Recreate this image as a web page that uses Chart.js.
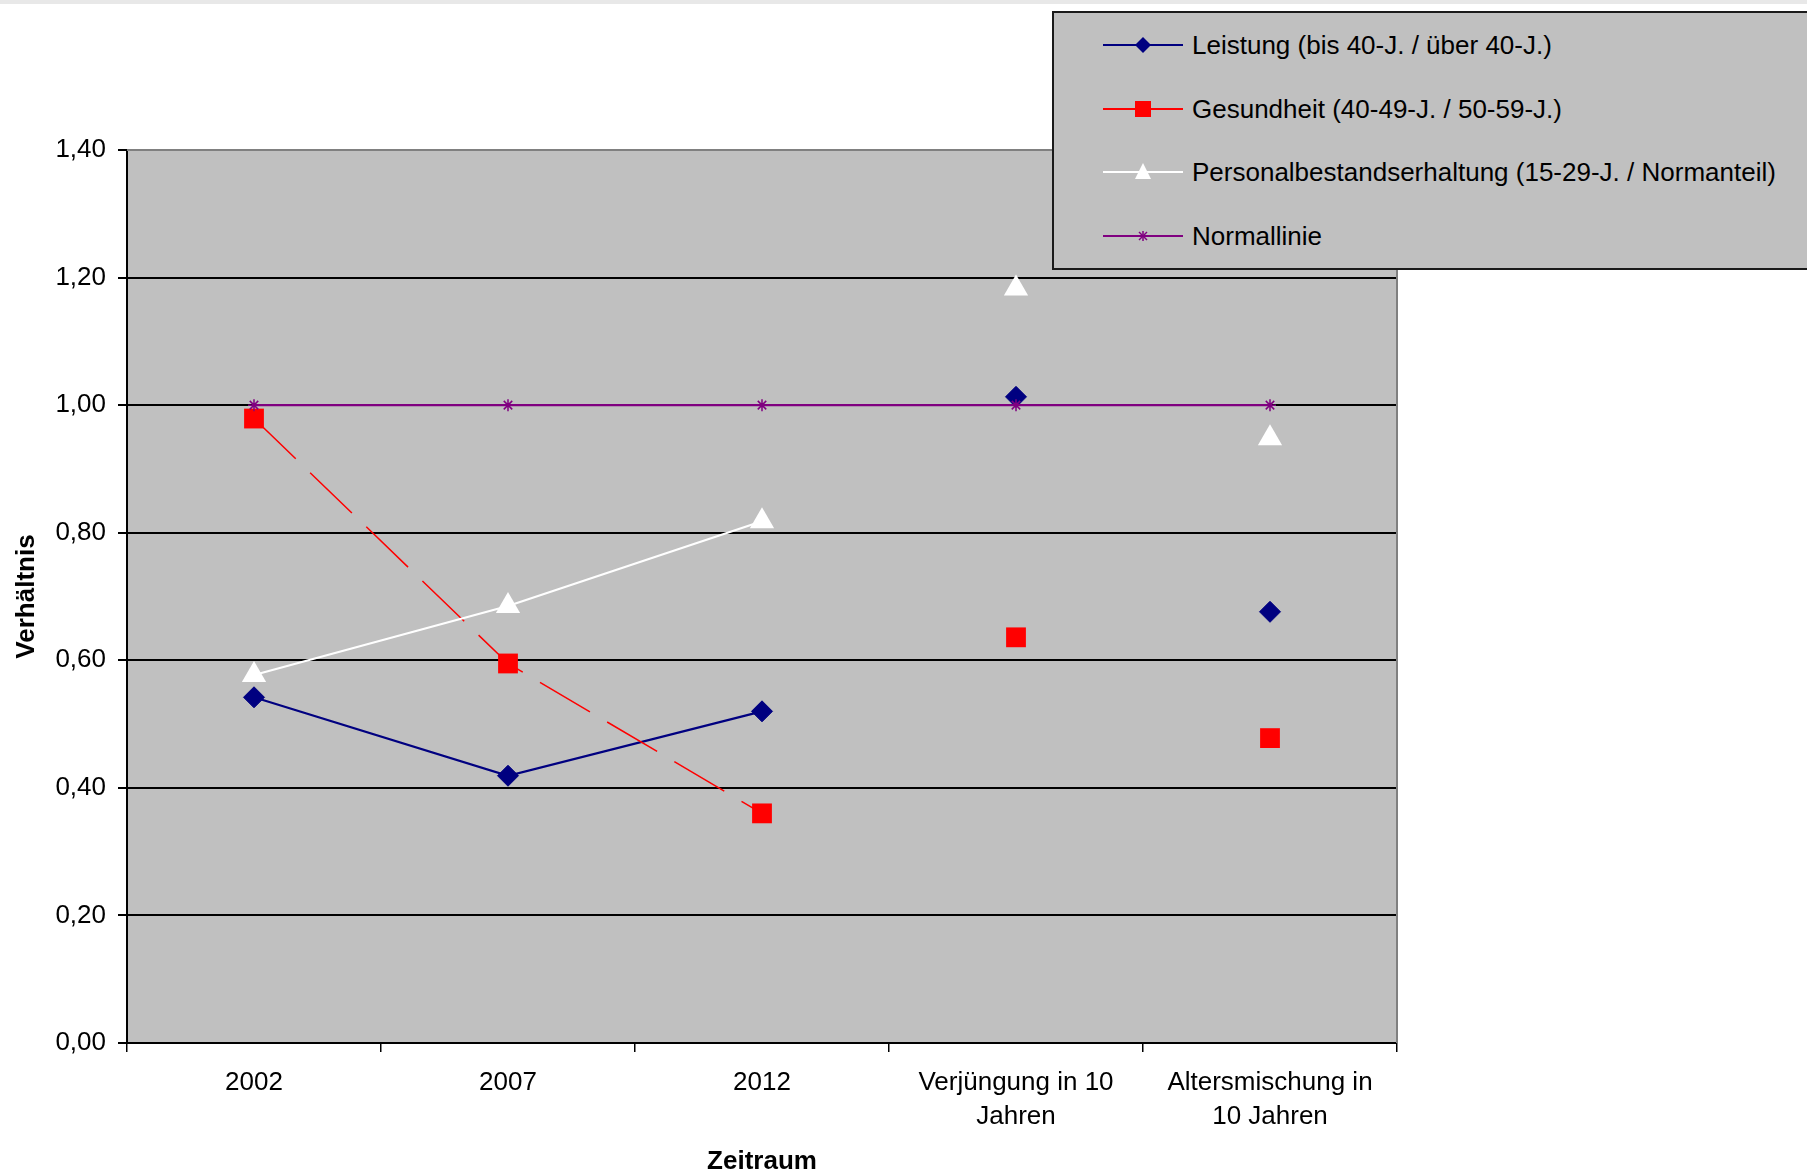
<!DOCTYPE html>
<html>
<head>
<meta charset="utf-8">
<script src="https://cdn.jsdelivr.net/npm/chart.js@4/dist/chart.umd.min.js"></script>
<style>
  html, body { margin: 0; padding: 0; background: #ffffff; overflow: hidden; }
  #wrap { position: relative; width: 1807px; height: 1174px; }
  #topband { position: absolute; left: 0; top: 0; width: 1807px; height: 4px; background: #e8e8e8; }
  #c { position: absolute; left: 0; top: 0; }
  #legend {
    position: absolute; left: 1052px; top: 11px; width: 800px; height: 259px;
    background: #c0c0c0; border: 2px solid #1a1a1a; box-sizing: border-box;
    font-family: "Liberation Sans", Arial, sans-serif; font-size: 26px; color: #000;
  }
  .row { position: absolute; left: 49px; height: 40px; display: flex; align-items: center; white-space: nowrap; }
  .row svg { display: block; margin-right: 9px; }
</style>
</head>
<body>
<div id="wrap">
  <div id="topband"></div>
  <canvas id="c" width="1807" height="1174"></canvas>
  <div id="legend"></div>
</div>
<script>
// ---- data ----
const categories = ["2002", "2007", "2012", ["Verjüngung in 10", "Jahren"], ["Altersmischung in", "10 Jahren"]];
const seriesNames = [
  "Leistung (bis 40-J. / über 40-J.)",
  "Gesundheit (40-49-J. / 50-59-J.)",
  "Personalbestandserhaltung (15-29-J. / Normanteil)",
  "Normallinie"
];
const leistung   = [0.542, 0.419, 0.520, 1.013, 0.676];
const gesundheit = [0.979, 0.595, 0.360, 0.636, 0.478];
const personal   = [0.577, 0.685, 0.818, 1.183, 0.948];
const normallinie = [1.00, 1.00, 1.00, 1.00, 1.00];
const yTickLabels = ["0,00", "0,20", "0,40", "0,60", "0,80", "1,00", "1,20", "1,40"];
const xTitle = "Zeitraum";
const yTitle = "Verhältnis";

const FONT = '"Liberation Sans", Arial, sans-serif';
const lastConnected = 2; // lines only drawn between the first three periods

const hideAfter = (col) => ({
  borderColor: (ctx) => ctx.p0DataIndex >= lastConnected ? 'rgba(0,0,0,0)' : col
});

const bgPlugin = {
  id: 'plotBg',
  beforeDraw(chart) {
    const {ctx, chartArea: a} = chart;
    ctx.save();
    ctx.fillStyle = '#c0c0c0';
    ctx.fillRect(a.left, a.top, a.right - a.left, a.bottom - a.top);
    ctx.restore();
  },
  beforeDatasetsDraw(chart) {
    const {ctx, chartArea: a} = chart;
    ctx.save();
    ctx.strokeStyle = '#808080';
    ctx.lineWidth = 2;
    ctx.beginPath();
    ctx.moveTo(a.left, a.top);
    ctx.lineTo(a.right, a.top);
    ctx.lineTo(a.right, a.bottom);
    ctx.stroke();
    ctx.restore();
  }
};

const datasets = [
  {
    label: seriesNames[0], data: leistung, order: 4,
    borderColor: '#000080', borderWidth: 2.2,
    pointStyle: 'rectRot', pointRadius: 10.5, pointHoverRadius: 10.5,
    pointBackgroundColor: '#000080', pointBorderColor: '#000080', pointBorderWidth: 1,
    segment: hideAfter('#000080')
  },
  {
    label: seriesNames[1], data: gesundheit, order: 3,
    borderColor: '#ff0000', borderWidth: 1.5, borderDash: [58, 20],
    pointStyle: 'rect', pointRadius: 14, pointHoverRadius: 14,
    pointBackgroundColor: '#ff0000', pointBorderColor: '#ff0000', pointBorderWidth: 0,
    segment: hideAfter('#ff0000')
  },
  {
    label: seriesNames[2], data: personal, order: 2,
    borderColor: '#ffffff', borderWidth: 2.2,
    pointStyle: 'triangle', pointRadius: 14, pointHoverRadius: 14,
    pointBackgroundColor: '#ffffff', pointBorderColor: '#ffffff', pointBorderWidth: 0,
    segment: hideAfter('#ffffff')
  },
  {
    label: seriesNames[3], data: normallinie, order: 1,
    borderColor: '#800080', borderWidth: 2.2,
    pointStyle: 'star', pointRadius: 6, pointHoverRadius: 6,
    pointBackgroundColor: '#800080', pointBorderColor: '#800080', pointBorderWidth: 1.5
  }
];

new Chart(document.getElementById('c'), {
  type: 'line',
  data: { labels: categories, datasets },
  plugins: [bgPlugin],
  options: {
    responsive: false, animation: false, devicePixelRatio: 1,
    layout: { padding: { left: 0, top: 150, right: 410, bottom: 0 } },
    plugins: { legend: { display: false }, tooltip: { enabled: false } },
    elements: { line: { tension: 0 } },
    scales: {
      x: {
        type: 'category', offset: true,
        grid: { display: true, offset: true, drawOnChartArea: false, drawTicks: true, tickLength: 9, color: '#000', lineWidth: 1.5 },
        border: { display: true, color: '#000', width: 2 },
        ticks: { color: '#000', padding: 14, maxRotation: 0, autoSkip: false, font: { family: FONT, size: 26, lineHeight: 1.3 } },
        title: { display: true, text: xTitle, color: '#000', padding: { top: 0, bottom: 0 }, font: { family: FONT, size: 26, weight: 'bold', lineHeight: 0.9 } },
        afterFit(axis) { axis.height = 131; }
      },
      y: {
        min: 0, max: 1.4,
        grid: {
          color: (c) => (c.tick && Math.abs(c.tick.value - 1.4) < 1e-6) ? '#808080' : '#000',
          tickColor: '#000', lineWidth: 2, tickLength: 9
        },
        border: { display: true, color: '#000', width: 2 },
        ticks: {
          stepSize: 0.2, color: '#000', padding: 12,
          font: { family: FONT, size: 26 },
          callback: (v, i) => yTickLabels[i]
        },
        title: { display: true, text: yTitle, color: '#000', padding: { top: 11, bottom: 0 }, font: { family: FONT, size: 26, weight: 'bold', lineHeight: 1.2 } },
        afterFit(axis) { axis.width = 127; }
      }
    }
  }
});

// ---- HTML legend ----
const icons = [
  '<polygon points="40,7 48,15 40,23 32,15" fill="#000080"/>',
  '<rect x="32" y="7" width="16" height="16" fill="#ff0000"/>',
  '<polygon points="40,6 48,22 32,22" fill="#ffffff"/>',
  '<g stroke="#800080" stroke-width="1.5"><line x1="36" y1="11" x2="44" y2="19"/><line x1="44" y1="11" x2="36" y2="19"/><line x1="40" y1="10" x2="40" y2="20"/><line x1="35" y1="15" x2="45" y2="15"/></g>'
];
const lineCols = ['#000080', '#ff0000', '#ffffff', '#800080'];
const rowCenters = [32, 96, 159, 223];
const leg = document.getElementById('legend');
seriesNames.forEach((name, i) => {
  const row = document.createElement('div');
  row.className = 'row';
  row.style.top = (rowCenters[i] - 20) + 'px';
  row.innerHTML = '<svg width="80" height="30" viewBox="0 0 80 30"><line x1="0" y1="15" x2="80" y2="15" stroke="' + lineCols[i] + '" stroke-width="2"/>' + icons[i] + '</svg><span></span>';
  row.querySelector('span').textContent = name;
  leg.appendChild(row);
});
</script>
</body>
</html>
